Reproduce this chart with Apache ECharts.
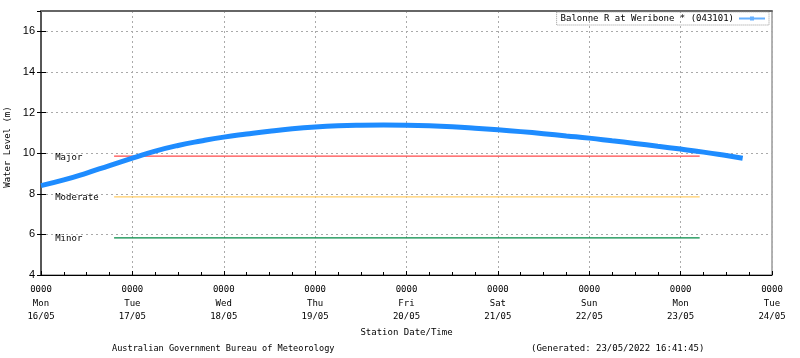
<!DOCTYPE html>
<html>
<head>
<meta charset="utf-8">
<script src="https://cdn.jsdelivr.net/npm/echarts@6/dist/echarts.min.js"></script>
<style>html,body{margin:0;padding:0;background:#fff}#c{width:800px;height:358px}</style>
</head>
<body>
<div id="c"></div>
<script>
// Time in hours since Mon 16/05 00:00
const hours = [0,6,12,18,24,30,36,42,48,54,60,66,72,78,84,90,96,102,108,114,120,126,132,138,144,150,156,162,168,174,180,184.3];
const levels = [8.40,8.68,9.02,9.39,9.75,10.10,10.38,10.60,10.79,10.94,11.08,11.20,11.29,11.35,11.38,11.39,11.38,11.35,11.30,11.23,11.15,11.06,10.96,10.85,10.74,10.61,10.48,10.34,10.20,10.05,9.88,9.75];
const tickLabels = ['0000\nMon\n16/05','0000\nTue\n17/05','0000\nWed\n18/05','0000\nThu\n19/05','0000\nFri\n20/05','0000\nSat\n21/05','0000\nSun\n22/05','0000\nMon\n23/05','0000\nTue\n24/05'];
const thresholdNames = ['Major','Moderate','Minor'];
const thresholdValues = [9.85,7.85,5.83];
const thresholdColors = ['#ff4a4a','#ffcc66','#008844'];
const thresholdStart = 19.2;
const thresholdEnd = 173;
const labelHour = 3.6;
const seriesName = 'Balonne R at Weribone * (043101)';

const mono = 'DejaVu Sans Mono';
const chart = echarts.init(document.getElementById('c'), null, {renderer:'canvas'});
const series = [];
thresholdNames.forEach((n,i)=>{
  series.push({
    type:'line', name:n, data:[[thresholdStart,thresholdValues[i]],[thresholdEnd,thresholdValues[i]]],
    showSymbol:false, lineStyle:{color:thresholdColors[i],width:1.2}, silent:true, z:2
  });
  series.push({
    type:'scatter', name:n+'_lbl', data:[[labelHour,thresholdValues[i]]], symbolSize:1,
    itemStyle:{opacity:0},
    label:{show:true,position:'right',distance:0,formatter:n,fontFamily:mono,fontSize:9,color:'#000',opacity:1,textBorderWidth:0,offset:[0,1]},
    emphasis:{disabled:true},
    silent:true, z:3
  });
});
series.push({
  type:'line', name:seriesName, data:hours.map((h,i)=>[h,levels[i]]),
  smooth:true, symbol:'circle', symbolSize:4, showSymbol:false,
  lineStyle:{color:'#1e8cff',width:5}, itemStyle:{color:'#1e8cff'}, z:5
});

chart.setOption({
  animation:false,
  backgroundColor:'#fff',
  grid:{left:41,right:28,top:11,bottom:83,show:true,borderColor:'#666',borderWidth:1,containLabel:false,outerBoundsMode:'none'},
  legend:{
    data:[{name:seriesName,icon:'path://M0,5h11v2h-11z M11,4h4v4h-4z M15,5h11v2h-11z'}],
    right:31, top:12, align:'right', itemWidth:26, itemHeight:4, itemGap:4,
    textStyle:{fontFamily:mono,fontSize:9,color:'#000'},
    itemStyle:{color:'#66b0ff'},
    borderColor:'#999', borderWidth:1, borderType:'dotted', padding:[2,4,2,4]
  },
  xAxis:[{
    type:'value', min:0, max:192, interval:24,
    name:'Station Date/Time', nameLocation:'middle', nameGap:48,
    nameTextStyle:{fontFamily:mono,fontSize:9,color:'#000'},
    axisLine:{show:true,lineStyle:{color:'#000',width:1}},
    axisTick:{show:true,inside:true,length:4,lineStyle:{color:'#000'}},
    minorTick:{show:true,splitNumber:4,length:3,lineStyle:{color:'#000'}},
    axisLabel:{formatter:v=>tickLabels[Math.round(v/24)],fontFamily:mono,fontSize:9,color:'#000',lineHeight:13.5,margin:8},
    splitLine:{show:true,lineStyle:{color:'#aaa',type:[2,3],width:1}}
  },{
    type:'value', min:0, max:192, interval:24, position:'top',
    axisLine:{show:true,lineStyle:{color:'#666',width:2}},
    axisTick:{show:false}, axisLabel:{show:false}, splitLine:{show:false}
  }],
  yAxis:[{
    type:'value', min:4, max:17, interval:2,
    name:'Water Level (m)', nameLocation:'middle', nameGap:25, nameRotate:90,
    nameTextStyle:{fontFamily:mono,fontSize:9,color:'#000',padding:[0,8,0,0]},
    axisLine:{show:true,lineStyle:{color:'#000',width:1.5}},
    axisTick:{show:true,inside:true,length:5,lineStyle:{color:'#000'}},
    axisLabel:{fontFamily:'Liberation Sans',fontSize:11,color:'#000',margin:6,showMaxLabel:false},
    splitLine:{show:true,lineStyle:{color:'#aaa',type:[2,3],width:1}}
  },{
    type:'value', min:4, max:17, interval:2, position:'right',
    axisLine:{show:true,lineStyle:{color:'#666',width:1.5}},
    axisTick:{show:true,inside:true,length:4,lineStyle:{color:'#000'}},
    axisLabel:{show:false}, splitLine:{show:false}
  }],
  graphic:[
    {type:'text',left:112,top:344,style:{text:'Australian Government Bureau of Meteorology',font:'8.6px "DejaVu Sans Mono"',fill:'#000'}},
    {type:'text',left:531,top:344,style:{text:'(Generated: 23/05/2022 16:41:45)',font:'9px "DejaVu Sans Mono"',fill:'#000'}}
  ],
  series:series
});
</script>
</body>
</html>
